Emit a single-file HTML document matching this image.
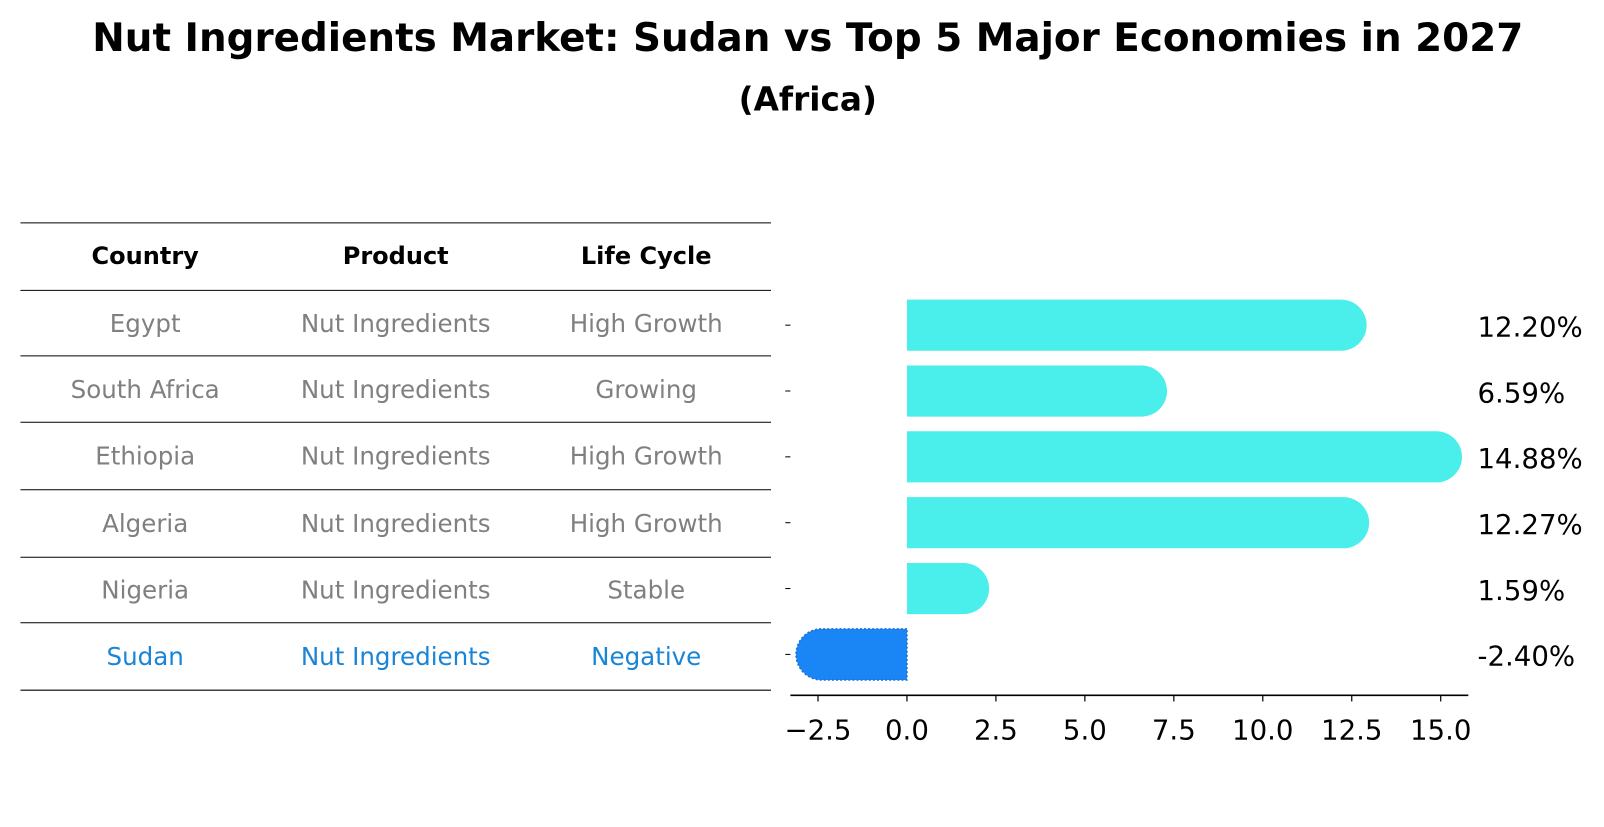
<!DOCTYPE html>
<html><head><meta charset="utf-8"><style>
body{margin:0;width:1604px;height:823px;background:#fff;font-family:"DejaVu Sans","Liberation Sans",sans-serif;overflow:hidden}
</style></head><body>
<svg width="1604" height="823" xmlns="http://www.w3.org/2000/svg" font-family="DejaVu Sans, Liberation Sans, sans-serif">
<g transform="scale(1.0225)">
<text x="790" y="50" text-anchor="middle" font-size="38" font-weight="bold">Nut Ingredients Market: Sudan vs Top 5 Major Economies in 2027</text>
<text x="790" y="108" text-anchor="middle" font-size="32" font-weight="bold">(Africa)</text>
<g id="table"></g>
<g id="bars"></g>
</g>
</svg>
<script>
const countries=["Egypt","South Africa","Ethiopia","Algeria","Nigeria","Sudan"];
const products=["Nut Ingredients","Nut Ingredients","Nut Ingredients","Nut Ingredients","Nut Ingredients","Nut Ingredients"];
const lifeCycles=["High Growth","Growing","High Growth","High Growth","Stable","Negative"];
const values=[12.20,6.59,14.88,12.27,1.59,-2.40];
const labels=["12.20%","6.59%","14.88%","12.27%","1.59%","-2.40%"];
const ticks=[-2.5,0,2.5,5,7.5,10,12.5,15];
const tickLabels=["\u22122.5","0.0","2.5","5.0","7.5","10.0","12.5","15.0"];
const NS="http://www.w3.org/2000/svg";
function mk(t,a,p){const e=document.createElementNS(NS,t);for(const k in a)e.setAttribute(k,a[k]);p.appendChild(e);return e;}
const tb=document.getElementById('table');
const lineYs=[218,284,348,413,479,545,609,675];
lineYs.forEach(y=>{const l=mk('line',{x1:20,x2:754,y1:y,y2:y,stroke:'#000','stroke-width':1},tb);
});
const cx=[142,387,632];
["Country","Product","Life Cycle"].forEach((h,i)=>{const t=mk('text',{x:cx[i],y:258,'text-anchor':'middle','font-size':23.5,'font-weight':'bold'},tb);t.textContent=h;
});
countries.forEach((c,r)=>{const y=(lineYs[r+1]+lineYs[r+2])/2+8.5;const col=c==="Sudan"?"#1a85d6":"#808080";
[c,products[r],lifeCycles[r]].forEach((v,i)=>{const t=mk('text',{x:cx[i],y:y,'text-anchor':'middle','font-size':24,fill:col},tb);t.textContent=v;
});});
const g=document.getElementById('bars');
const x0=887,ppu=34.8;const X=v=>x0+v*ppu;
const Y=i=>318+i*64.4;const h=50,r=25;
values.forEach((v,i)=>{const yc=Y(i);const xe=X(v);const col=v<0?'#1a85f5':'#4aeeea';
let d;
if(v>=0)d=`M${x0},${yc-h/2} L${xe},${yc-h/2} A${r},${r} 0 0 1 ${xe},${yc+h/2} L${x0},${yc+h/2} Z`;
else d=`M${x0},${yc-h/2} L${xe},${yc-h/2} A${r},${r} 0 0 0 ${xe},${yc+h/2} L${x0},${yc+h/2} Z`;
const p=mk('path',{d:d,fill:col},g);
if(v<0){p.setAttribute('stroke','#1a70d0');p.setAttribute('stroke-dasharray','2,2');p.setAttribute('stroke-width','1.5');}

const t=mk('text',{x:1445,y:yc+11,'font-size':27},g);t.textContent=labels[i];

const yt=mk('line',{x1:768,x2:773,y1:yc,y2:yc,stroke:'#000','stroke-width':1},g);
});
const ax=mk('line',{x1:773,x2:1436,y1:680,y2:680,stroke:'#000','stroke-width':1.5},g);

ticks.forEach((v,i)=>{const l=mk('line',{x1:X(v),x2:X(v),y1:680,y2:686,stroke:'#000','stroke-width':1.2},g);

const t=mk('text',{x:X(v),y:723,'text-anchor':'middle','font-size':27},g);t.textContent=tickLabels[i];
});
</script>
</body></html>
